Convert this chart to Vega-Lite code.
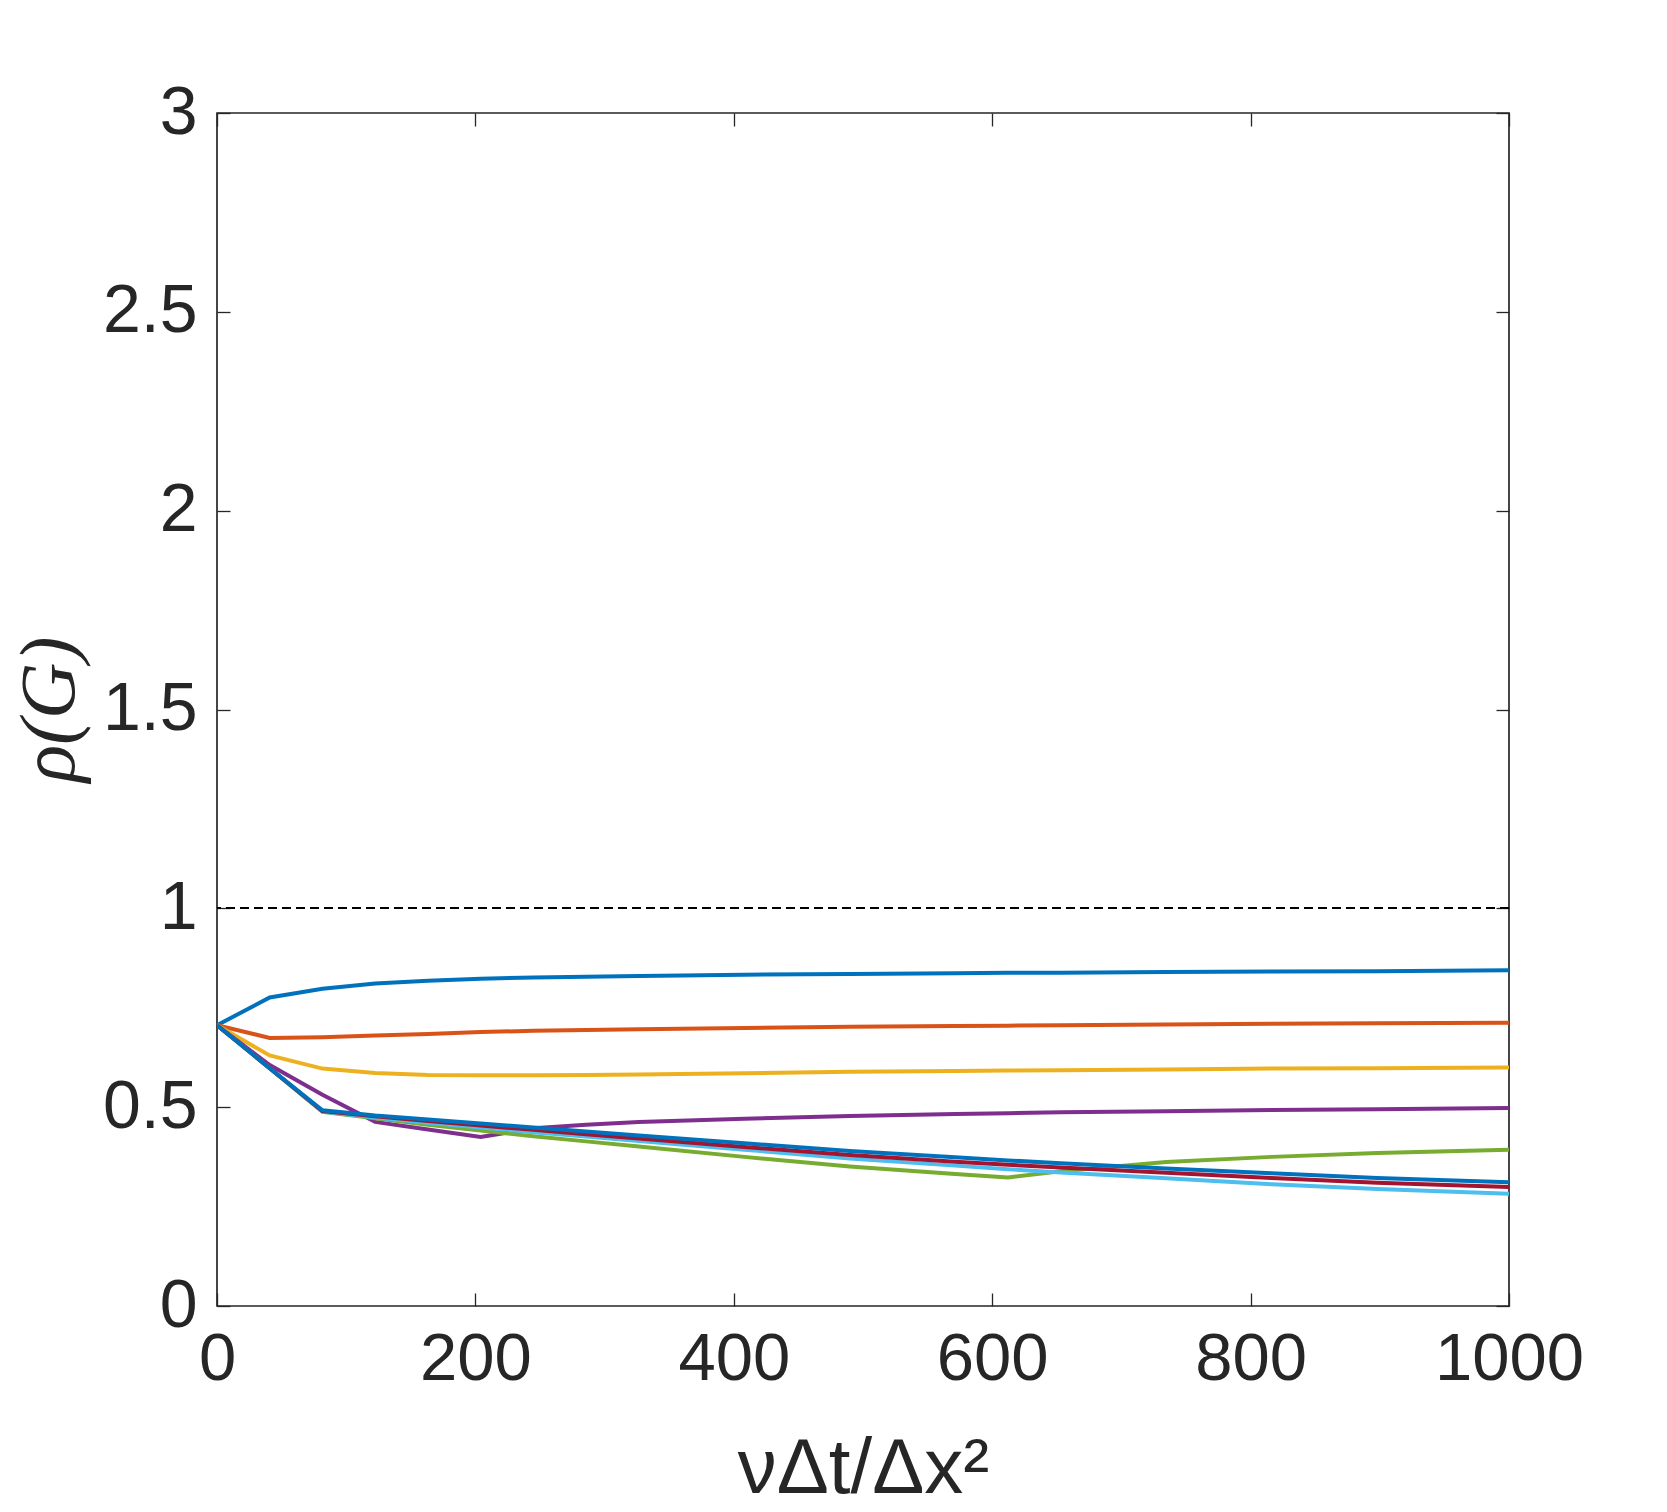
{
  "$schema": "https://vega.github.io/schema/vega-lite/v6.json",
  "width": 1292,
  "height": 1193,
  "autosize": {"type": "none"},
  "padding": {"left": 217, "top": 113, "right": 158, "bottom": 206},
  "background": "white",
  "datasets": {
    "curves": [
      {"s":"s1","x":0,"y":0.706},{"s":"s1","x":40.8,"y":0.776},{"s":"s1","x":81.6,"y":0.798},{"s":"s1","x":122.4,"y":0.811},{"s":"s1","x":163.3,"y":0.818},{"s":"s1","x":204.1,"y":0.823},{"s":"s1","x":244.9,"y":0.826},{"s":"s1","x":285.7,"y":0.828},{"s":"s1","x":326.5,"y":0.830},{"s":"s1","x":408.2,"y":0.833},{"s":"s1","x":489.8,"y":0.835},{"s":"s1","x":571.4,"y":0.837},{"s":"s1","x":612.2,"y":0.838},{"s":"s1","x":653.1,"y":0.838},{"s":"s1","x":734.7,"y":0.840},{"s":"s1","x":816.3,"y":0.841},{"s":"s1","x":898,"y":0.842},{"s":"s1","x":1000,"y":0.844},
      {"s":"s2","x":0,"y":0.706},{"s":"s2","x":40.8,"y":0.674},{"s":"s2","x":81.6,"y":0.676},{"s":"s2","x":122.4,"y":0.680},{"s":"s2","x":163.3,"y":0.684},{"s":"s2","x":204.1,"y":0.689},{"s":"s2","x":244.9,"y":0.692},{"s":"s2","x":285.7,"y":0.694},{"s":"s2","x":326.5,"y":0.696},{"s":"s2","x":408.2,"y":0.699},{"s":"s2","x":489.8,"y":0.702},{"s":"s2","x":571.4,"y":0.704},{"s":"s2","x":612.2,"y":0.705},{"s":"s2","x":653.1,"y":0.706},{"s":"s2","x":734.7,"y":0.708},{"s":"s2","x":816.3,"y":0.710},{"s":"s2","x":898,"y":0.711},{"s":"s2","x":1000,"y":0.712},
      {"s":"s3","x":0,"y":0.706},{"s":"s3","x":40.8,"y":0.630},{"s":"s3","x":81.6,"y":0.597},{"s":"s3","x":122.4,"y":0.586},{"s":"s3","x":163.3,"y":0.581},{"s":"s3","x":204.1,"y":0.580},{"s":"s3","x":244.9,"y":0.580},{"s":"s3","x":285.7,"y":0.581},{"s":"s3","x":326.5,"y":0.582},{"s":"s3","x":408.2,"y":0.585},{"s":"s3","x":489.8,"y":0.589},{"s":"s3","x":571.4,"y":0.591},{"s":"s3","x":612.2,"y":0.592},{"s":"s3","x":653.1,"y":0.593},{"s":"s3","x":734.7,"y":0.595},{"s":"s3","x":816.3,"y":0.597},{"s":"s3","x":898,"y":0.598},{"s":"s3","x":1000,"y":0.600},
      {"s":"s4","x":0,"y":0.706},{"s":"s4","x":40.8,"y":0.606},{"s":"s4","x":81.6,"y":0.531},{"s":"s4","x":122.4,"y":0.463},{"s":"s4","x":163.3,"y":0.444},{"s":"s4","x":204.1,"y":0.425},{"s":"s4","x":244.9,"y":0.447},{"s":"s4","x":285.7,"y":0.456},{"s":"s4","x":326.5,"y":0.463},{"s":"s4","x":408.2,"y":0.471},{"s":"s4","x":489.8,"y":0.478},{"s":"s4","x":571.4,"y":0.483},{"s":"s4","x":612.2,"y":0.485},{"s":"s4","x":653.1,"y":0.487},{"s":"s4","x":734.7,"y":0.490},{"s":"s4","x":816.3,"y":0.493},{"s":"s4","x":898,"y":0.495},{"s":"s4","x":1000,"y":0.498},
      {"s":"s5","x":0,"y":0.706},{"s":"s5","x":40.8,"y":0.598},{"s":"s5","x":81.6,"y":0.488},{"s":"s5","x":122.4,"y":0.472},{"s":"s5","x":163.3,"y":0.456},{"s":"s5","x":204.1,"y":0.441},{"s":"s5","x":244.9,"y":0.427},{"s":"s5","x":285.7,"y":0.414},{"s":"s5","x":326.5,"y":0.401},{"s":"s5","x":408.2,"y":0.375},{"s":"s5","x":489.8,"y":0.351},{"s":"s5","x":571.4,"y":0.332},{"s":"s5","x":612.2,"y":0.323},{"s":"s5","x":653.1,"y":0.339},{"s":"s5","x":734.7,"y":0.362},{"s":"s5","x":816.3,"y":0.375},{"s":"s5","x":898,"y":0.385},{"s":"s5","x":1000,"y":0.393},
      {"s":"s6","x":0,"y":0.706},{"s":"s6","x":40.8,"y":0.598},{"s":"s6","x":81.6,"y":0.489},{"s":"s6","x":122.4,"y":0.474},{"s":"s6","x":163.3,"y":0.461},{"s":"s6","x":204.1,"y":0.449},{"s":"s6","x":244.9,"y":0.437},{"s":"s6","x":285.7,"y":0.426},{"s":"s6","x":326.5,"y":0.415},{"s":"s6","x":408.2,"y":0.393},{"s":"s6","x":489.8,"y":0.371},{"s":"s6","x":571.4,"y":0.353},{"s":"s6","x":612.2,"y":0.344},{"s":"s6","x":653.1,"y":0.336},{"s":"s6","x":734.7,"y":0.321},{"s":"s6","x":816.3,"y":0.306},{"s":"s6","x":898,"y":0.294},{"s":"s6","x":1000,"y":0.282},
      {"s":"s7","x":0,"y":0.706},{"s":"s7","x":40.8,"y":0.598},{"s":"s7","x":81.6,"y":0.490},{"s":"s7","x":122.4,"y":0.477},{"s":"s7","x":163.3,"y":0.465},{"s":"s7","x":204.1,"y":0.454},{"s":"s7","x":244.9,"y":0.443},{"s":"s7","x":285.7,"y":0.432},{"s":"s7","x":326.5,"y":0.421},{"s":"s7","x":408.2,"y":0.400},{"s":"s7","x":489.8,"y":0.380},{"s":"s7","x":571.4,"y":0.363},{"s":"s7","x":612.2,"y":0.355},{"s":"s7","x":653.1,"y":0.348},{"s":"s7","x":734.7,"y":0.335},{"s":"s7","x":816.3,"y":0.322},{"s":"s7","x":898,"y":0.310},{"s":"s7","x":1000,"y":0.299},
      {"s":"s8","x":0,"y":0.706},{"s":"s8","x":40.8,"y":0.598},{"s":"s8","x":81.6,"y":0.492},{"s":"s8","x":122.4,"y":0.479},{"s":"s8","x":163.3,"y":0.469},{"s":"s8","x":204.1,"y":0.459},{"s":"s8","x":244.9,"y":0.449},{"s":"s8","x":285.7,"y":0.439},{"s":"s8","x":326.5,"y":0.429},{"s":"s8","x":408.2,"y":0.409},{"s":"s8","x":489.8,"y":0.390},{"s":"s8","x":571.4,"y":0.374},{"s":"s8","x":612.2,"y":0.366},{"s":"s8","x":653.1,"y":0.359},{"s":"s8","x":734.7,"y":0.346},{"s":"s8","x":816.3,"y":0.334},{"s":"s8","x":898,"y":0.322},{"s":"s8","x":1000,"y":0.311}
    ]
  },
  "data": {"name": "curves"},
  "layer": [
    {
      "mark": {"type": "line", "strokeOpacity": 0},
      "encoding": {
        "x": {"field": "x", "type": "quantitative", "scale": {"domain": [0, 1000], "nice": false, "zero": false},
          "axis": {"orient": "top", "labels": false, "title": null, "values": [0, 200, 400, 600, 800, 1000], "domain": false, "grid": false, "ticks": true, "tickSize": -13, "tickColor": "#262626", "tickWidth": 1.3}},
        "y": {"field": "y", "type": "quantitative", "scale": {"domain": [0, 3], "nice": false, "zero": false},
          "axis": {"orient": "right", "labels": false, "title": null, "values": [0, 0.5, 1, 1.5, 2, 2.5, 3], "domain": false, "grid": false, "ticks": true, "tickSize": -13, "tickColor": "#262626", "tickWidth": 1.3}},
        "detail": {"field": "s"}
      }
    },
    {
      "mark": {"type": "rule", "strokeDash": [9, 5], "color": "#000000", "strokeWidth": 1.5},
      "encoding": {"y": {"datum": 1, "type": "quantitative", "axis": null}}
    },
    {
      "mark": {"type": "line", "strokeWidth": 4, "clip": true},
      "encoding": {
        "x": {"field": "x", "type": "quantitative", "scale": {"domain": [0, 1000], "nice": false, "zero": false},
          "axis": {"orient": "bottom", "values": [0, 200, 400, 600, 800, 1000], "format": "d", "domain": false, "grid": false, "tickSize": -13, "tickColor": "#262626", "tickWidth": 1.3,
            "labelFont": "Liberation Sans", "labelFontSize": 67, "labelColor": "#262626", "labelPadding": 33, "labelBaseline": "top", "labelFlush": false, "labelOverlap": false,
            "title": "νΔt/Δx²", "titleFont": "Liberation Sans", "titleFontSize": 78, "titleFontWeight": "normal", "titleColor": "#262626", "titleX": 646, "titleY": 186, "titleBaseline": "alphabetic", "titleAlign": "center"}},
        "y": {"field": "y", "type": "quantitative", "scale": {"domain": [0, 3], "nice": false, "zero": false},
          "axis": {"orient": "left", "values": [0, 0.5, 1, 1.5, 2, 2.5, 3], "format": "~g", "domain": false, "grid": false, "tickSize": -13, "tickColor": "#262626", "tickWidth": 1.3,
            "labelFont": "Liberation Sans", "labelFontSize": 68, "labelColor": "#262626", "labelPadding": 33, "labelBaseline": "middle", "labelFlush": false, "labelOverlap": false,
            "title": "ρ(G)", "titleFont": "Liberation Serif", "titleFontStyle": "italic", "titleFontSize": 78, "titleFontWeight": "normal", "titleColor": "#262626", "titleX": -167, "titleY": 596, "titleAngle": 270, "titleBaseline": "middle", "titleAlign": "center"}},
        "color": {"field": "s", "type": "nominal", "legend": null,
          "scale": {"domain": ["s1", "s2", "s3", "s4", "s5", "s6", "s7", "s8"], "range": ["#0072BD", "#D95319", "#EDB120", "#7E2F8E", "#77AC30", "#4DBEEE", "#A2142F", "#0072BD"]}}
      }
    }
  ],
  "resolve": {"axis": {"x": "independent", "y": "independent"}},
  "config": {
    "view": {"stroke": "#262626", "strokeWidth": 1.7},
    "axis": {"grid": false}
  }
}
